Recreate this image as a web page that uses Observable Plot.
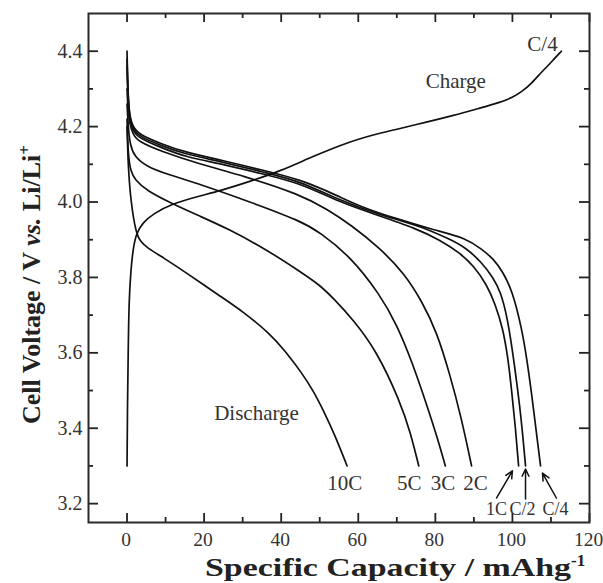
<!DOCTYPE html>
<html><head><meta charset="utf-8">
<script src="https://cdn.jsdelivr.net/npm/d3@7"></script>
<script src="https://cdn.jsdelivr.net/npm/@observablehq/plot@0.6"></script>
<style>body{margin:0;background:#fff}</style>
</head><body><div id="chart"></div>
<script>
// ---- data ----
const seriesNames = ["Charge", "C/4", "C/2", "1C", "2C", "3C", "5C", "10C"];
const capCharge = [0, 0.1, 0.3, 0.5, 1.0, 1.5, 2.3, 4, 7, 11.4, 18, 24.3, 32, 39.8, 48, 57.9, 65.6, 75, 85, 91.5, 97, 100, 102.5, 105, 107.5, 110, 112.7];
const voltCharge = [3.30, 3.45, 3.6, 3.737, 3.82, 3.87, 3.915, 3.945, 3.97, 3.994, 4.014, 4.03, 4.055, 4.082, 4.12, 4.161, 4.183, 4.205, 4.23, 4.249, 4.265, 4.277, 4.293, 4.315, 4.344, 4.37, 4.40];
const capC4 = [0, 0.2, 0.6, 1.5, 3, 8.7, 15, 25, 35, 45, 55, 60, 70, 80, 88, 92, 95, 97.5, 100, 102.4, 103.8, 105, 106.2, 107.3];
const voltC4 = [4.40, 4.30, 4.23, 4.20, 4.18, 4.155, 4.132, 4.11, 4.085, 4.06, 4.015, 3.99, 3.955, 3.925, 3.904, 3.875, 3.85, 3.815, 3.764, 3.666, 3.58, 3.49, 3.39, 3.30];
const capC2 = [0, 0.2, 0.6, 1.5, 3, 8.7, 15, 25, 35, 45, 55, 65, 72, 78, 84, 88, 92, 95, 97, 98.5, 99.5, 100.5, 101.9, 102.7, 103.4];
const voltC2 = [4.38, 4.29, 4.225, 4.195, 4.175, 4.15, 4.127, 4.106, 4.08, 4.055, 4.005, 3.968, 3.948, 3.928, 3.90, 3.878, 3.84, 3.80, 3.76, 3.70, 3.64, 3.57, 3.46, 3.38, 3.30];
const cap1C = [0, 0.2, 0.6, 1.5, 3, 8.7, 15, 25, 35, 45, 55, 65, 75, 81, 86.4, 90, 93.4, 95.5, 97.5, 98.8, 99.8, 100.8, 101.6];
const volt1C = [4.36, 4.28, 4.22, 4.19, 4.17, 4.145, 4.12, 4.10, 4.075, 4.05, 4.0, 3.965, 3.93, 3.90, 3.865, 3.83, 3.78, 3.73, 3.666, 3.59, 3.50, 3.40, 3.30];
const cap2C = [0, 0.2, 0.6, 1.5, 3, 8.7, 19, 30, 45, 52, 58, 65.6, 72, 76.5, 80.4, 83.7, 86.7, 89.4];
const volt2C = [4.30, 4.25, 4.21, 4.18, 4.16, 4.135, 4.10, 4.07, 4.02, 3.98, 3.94, 3.878, 3.81, 3.737, 3.655, 3.545, 3.43, 3.30];
const cap3C = [0, 0.3, 0.8, 2, 5, 10, 19, 32, 45, 50, 58, 65.6, 70, 74, 78, 80.5, 82.6];
const volt3C = [4.26, 4.20, 4.15, 4.12, 4.095, 4.075, 4.047, 4.0, 3.95, 3.92, 3.855, 3.755, 3.675, 3.575, 3.455, 3.375, 3.30];
const cap5C = [0, 0.3, 1, 2, 5, 12, 19, 26, 36, 45, 50, 53.5, 58.5, 64.8, 70.8, 73.5, 75.7];
const volt5C = [4.22, 4.12, 4.08, 4.06, 4.03, 3.994, 3.962, 3.93, 3.875, 3.815, 3.78, 3.745, 3.69, 3.605, 3.472, 3.39, 3.30];
const cap10C = [0, 0.3, 1, 2.3, 3.5, 5, 9.6, 15, 24.2, 30, 37.2, 41, 45, 48.3, 51, 54, 57.1];
const volt10C = [4.20, 4.09, 4.0, 3.918, 3.895, 3.88, 3.851, 3.815, 3.75, 3.71, 3.65, 3.605, 3.552, 3.50, 3.446, 3.38, 3.30];

const xMajor = [0, 20, 40, 60, 80, 100, 120];
const xMinor = [10, 30, 50, 70, 90, 110];
const yMajor = [3.2, 3.4, 3.6, 3.8, 4.0, 4.2, 4.4];
const yMinor = [3.3, 3.5, 3.7, 3.9, 4.1, 4.3];

const labelText = ["Charge", "C/4", "Discharge", "10C", "5C", "3C", "2C"];
const labelX = [85.3, 107.8, 33.6, 56.5, 73.2, 82.0, 90.4];
const labelY = [4.32, 4.418, 3.44, 3.255, 3.255, 3.255, 3.255];
const smallText = ["1C", "C/2", "C/4"];
const smallX = [95.9, 102.6, 111.2];
const smallY = [3.186, 3.186, 3.186];

const arrowX1 = [95.9, 103.4, 111.4];
const arrowY1 = [3.215, 3.212, 3.215];
const arrowX2 = [100.0, 103.4, 107.8];
const arrowY2 = [3.287, 3.292, 3.281];

// ---- tables ----
const caps = [capCharge, capC4, capC2, cap1C, cap2C, cap3C, cap5C, cap10C];
const volts = [voltCharge, voltC4, voltC2, volt1C, volt2C, volt3C, volt5C, volt10C];
const rows = [];
seriesNames.forEach((s, k) => caps[k].forEach((c, i) => rows.push({series: s, cap: c, volt: volts[k][i]})));
const labels = labelText.map((t, i) => ({t, x: labelX[i], y: labelY[i]}));
const smallLabels = smallText.map((t, i) => ({t, x: smallX[i], y: smallY[i]}));
const arrows = arrowX1.map((x1, i) => ({x1, y1: arrowY1[i], x2: arrowX2[i], y2: arrowY2[i]}));

const W = 603, H = 583, mL = 88, mT = 13, mR = 14, mB = 61;
const pw = W - mL - mR, ph = H - mT - mB;
const ink = "#2a2a2a";
const tk = {stroke: "#222", strokeWidth: 1.8};
const id = d => d;

const chart = Plot.plot({
  width: W, height: H,
  marginLeft: mL, marginTop: mT, marginRight: mR, marginBottom: mB,
  style: {fontFamily: "'Liberation Serif', serif", fontSize: "20px", color: ink, background: "#fff"},
  x: {domain: [-10, 120]},
  y: {domain: [3.15, 4.5]},
  marks: [
    // tick labels
    Plot.axisX(xMajor, {anchor: "bottom", tickSize: 0, tickPadding: 10, label: null, fontSize: 19.5, fill: "#333", dx: -1}),
    Plot.axisY(yMajor, {anchor: "left", tickSize: 0, tickPadding: 6, label: null, fontSize: 20, fill: "#333", tickFormat: d3.format(".1f")}),
    // inward ticks on all four sides
    Plot.tickX(xMajor, {x: id, insetTop: ph - 9, ...tk}),
    Plot.tickX(xMinor, {x: id, insetTop: ph - 5, ...tk}),
    Plot.tickX(xMajor, {x: id, insetBottom: ph - 9, ...tk}),
    Plot.tickX(xMinor, {x: id, insetBottom: ph - 5, ...tk}),
    Plot.tickY(yMajor, {y: id, insetRight: pw - 10, ...tk}),
    Plot.tickY(yMinor, {y: id, insetRight: pw - 5, ...tk}),
    Plot.tickY(yMajor, {y: id, insetLeft: pw - 10, ...tk}),
    Plot.tickY(yMinor, {y: id, insetLeft: pw - 5, ...tk}),
    Plot.frame({stroke: ink, strokeWidth: 2}),
    Plot.line(rows, {x: "cap", y: "volt", z: "series", stroke: "#111", strokeWidth: 1.7, curve: "basis"}),
    Plot.text(labels, {x: "x", y: "y", text: "t", fontSize: 21, fill: "#333"}),
    Plot.text(smallLabels, {x: "x", y: "y", text: "t", fontSize: 18, fill: "#333"}),
    Plot.arrow(arrows, {x1: "x1", y1: "y1", x2: "x2", y2: "y2", stroke: "#111", strokeWidth: 1.5, headLength: 8, headAngle: 50})
  ]
});
document.getElementById("chart").appendChild(chart);

// axis titles with rich text
const svg = d3.select(chart);
const xt = svg.append("text")
  .attr("x", 205).attr("y", 576).attr("text-anchor", "start")
  .attr("font-family", "'Liberation Serif', serif").attr("font-weight", "bold")
  .attr("font-size", 26).attr("fill", "#222");
xt.append("tspan").attr("textLength", 366).attr("lengthAdjust", "spacingAndGlyphs").text("Specific Capacity / mAhg");
xt.append("tspan").attr("dy", -10).attr("font-size", 17).text("-1");

const yt = svg.append("text")
  .attr("transform", "translate(40,424) rotate(-90)").attr("text-anchor", "start")
  .attr("font-family", "'Liberation Serif', serif").attr("font-weight", "bold")
  .attr("font-size", 26).attr("fill", "#222");
yt.append("tspan").text("Cell Voltage / V ");
yt.append("tspan").attr("font-style", "italic").text("vs.");
yt.append("tspan").text(" Li/Li");
yt.append("tspan").attr("dy", -10).attr("font-size", 17).text("+");
</script>
</body></html>
